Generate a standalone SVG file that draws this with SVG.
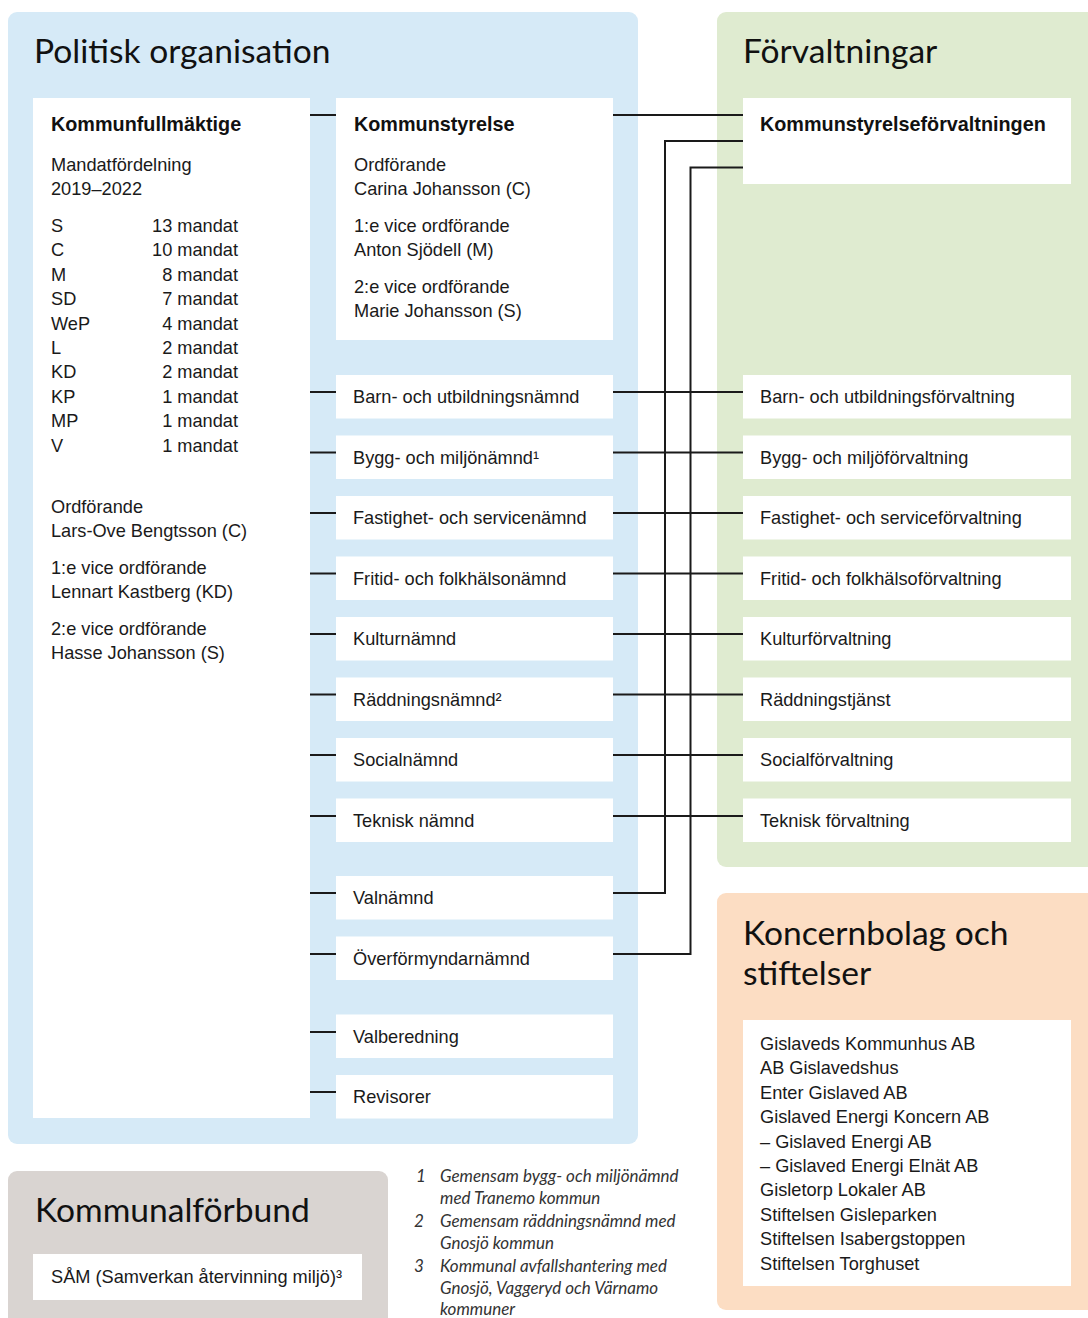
<svg xmlns="http://www.w3.org/2000/svg" width="1088" height="1318" viewBox="0 0 1088 1318">
<style>
.panel-blue{fill:#D6EAF7}
.panel-green{fill:#DFEBD0}
.panel-orange{fill:#FCDDC3}
.panel-gray{fill:#D9D4D1}
.box{fill:#FFFFFF}
.title{font-family:Lato,"Open Sans",sans-serif;font-size:33.6px;fill:#111}
.t{font-family:"Liberation Sans",Arial,sans-serif;font-size:18.2px;fill:#1a1a1a}
.b{font-family:"Liberation Sans",Arial,sans-serif;font-size:19.8px;font-weight:bold;fill:#111}
.fn{font-family:Lato,"Open Sans",sans-serif;font-size:17px;font-style:italic;fill:#333}
.conn{stroke:#1a1a1a;stroke-width:2;fill:none}
</style>
<rect width="1088" height="1318" fill="#FFFFFF"/>

<g id="panel-politisk">
<rect class="panel-blue" x="8" y="12" width="630" height="1132" rx="9"/>
<text class="title" x="34" y="63">Politisk organisation</text>
</g>
<g id="panel-forvaltningar">
<rect class="panel-green" x="717" y="12" width="390" height="855" rx="9"/>
<text class="title" x="743" y="63">Förvaltningar</text>
</g>
<g id="panel-koncern">
<rect class="panel-orange" x="717" y="893" width="390" height="417" rx="9"/>
<text class="title" x="743" y="945">Koncernbolag och</text>
<text class="title" x="743" y="985">stiftelser</text>
</g>
<g id="panel-kommunalforbund">
<rect class="panel-gray" x="8" y="1171" width="380" height="170" rx="9"/>
<text class="title" x="35" y="1222">Kommunalförbund</text>
</g>

<g id="connectors">
<line class="conn" x1="310" y1="115" x2="336" y2="115"/>
<line class="conn" x1="613" y1="115" x2="743" y2="115"/>
<polyline class="conn" points="743,141 665,141 665,893 613,893"/>
<polyline class="conn" points="743,167.5 690.5,167.5 690.5,954 613,954"/>
<line class="conn" x1="310" y1="392" x2="336" y2="392"/>
<line class="conn" x1="310" y1="452.5" x2="336" y2="452.5"/>
<line class="conn" x1="310" y1="513" x2="336" y2="513"/>
<line class="conn" x1="310" y1="573.5" x2="336" y2="573.5"/>
<line class="conn" x1="310" y1="634" x2="336" y2="634"/>
<line class="conn" x1="310" y1="694.5" x2="336" y2="694.5"/>
<line class="conn" x1="310" y1="755" x2="336" y2="755"/>
<line class="conn" x1="310" y1="816" x2="336" y2="816"/>
<line class="conn" x1="310" y1="893" x2="336" y2="893"/>
<line class="conn" x1="310" y1="954" x2="336" y2="954"/>
<line class="conn" x1="310" y1="1032" x2="336" y2="1032"/>
<line class="conn" x1="310" y1="1092" x2="336" y2="1092"/>
<line class="conn" x1="613" y1="392" x2="743" y2="392"/>
<line class="conn" x1="613" y1="452.5" x2="743" y2="452.5"/>
<line class="conn" x1="613" y1="513" x2="743" y2="513"/>
<line class="conn" x1="613" y1="573.5" x2="743" y2="573.5"/>
<line class="conn" x1="613" y1="634" x2="743" y2="634"/>
<line class="conn" x1="613" y1="694.5" x2="743" y2="694.5"/>
<line class="conn" x1="613" y1="755" x2="743" y2="755"/>
<line class="conn" x1="613" y1="816" x2="743" y2="816"/>
</g>

<g id="kommunfullmaktige">
<rect class="box" x="33" y="98" width="277" height="1020"/>
<text class="b" x="51" y="131">Kommunfullmäktige</text>
<text class="t" x="51" y="171">Mandatfördelning</text>
<text class="t" x="51" y="195">2019–2022</text>
<g class="t">
<text x="51" y="232">S</text>
<text x="51" y="256.4">C</text>
<text x="51" y="280.8">M</text>
<text x="51" y="305.2">SD</text>
<text x="51" y="329.6">WeP</text>
<text x="51" y="354">L</text>
<text x="51" y="378.4">KD</text>
<text x="51" y="402.8">KP</text>
<text x="51" y="427.2">MP</text>
<text x="51" y="451.6">V</text>
</g>
<g class="t" text-anchor="end">
<text x="238" y="232">13 mandat</text>
<text x="238" y="256.4">10 mandat</text>
<text x="238" y="280.8">8 mandat</text>
<text x="238" y="305.2">7 mandat</text>
<text x="238" y="329.6">4 mandat</text>
<text x="238" y="354">2 mandat</text>
<text x="238" y="378.4">2 mandat</text>
<text x="238" y="402.8">1 mandat</text>
<text x="238" y="427.2">1 mandat</text>
<text x="238" y="451.6">1 mandat</text>
</g>
<text class="t" x="51" y="513">Ordförande</text>
<text class="t" x="51" y="537">Lars-Ove Bengtsson (C)</text>
<text class="t" x="51" y="574">1:e vice ordförande</text>
<text class="t" x="51" y="598">Lennart Kastberg (KD)</text>
<text class="t" x="51" y="635">2:e vice ordförande</text>
<text class="t" x="51" y="659">Hasse Johansson (S)</text>
</g>

<g id="kommunstyrelse">
<rect class="box" x="336" y="98" width="277" height="242"/>
<text class="b" x="354" y="131">Kommunstyrelse</text>
<text class="t" x="354" y="171">Ordförande</text>
<text class="t" x="354" y="195">Carina Johansson (C)</text>
<text class="t" x="354" y="232">1:e vice ordförande</text>
<text class="t" x="354" y="256">Anton Sjödell (M)</text>
<text class="t" x="354" y="293">2:e vice ordförande</text>
<text class="t" x="354" y="317">Marie Johansson (S)</text>
</g>

<g id="n-barn"><rect class="box" x="336" y="375" width="277" height="43.5"/><text class="t" x="353" y="403">Barn- och utbildningsnämnd</text></g>
<g id="n-bygg"><rect class="box" x="336" y="435.5" width="277" height="43.5"/><text class="t" x="353" y="463.5">Bygg- och miljönämnd¹</text></g>
<g id="n-fastighet"><rect class="box" x="336" y="496" width="277" height="43.5"/><text class="t" x="353" y="524">Fastighet- och servicenämnd</text></g>
<g id="n-fritid"><rect class="box" x="336" y="556.5" width="277" height="43.5"/><text class="t" x="353" y="584.5">Fritid- och folkhälsonämnd</text></g>
<g id="n-kultur"><rect class="box" x="336" y="617" width="277" height="43.5"/><text class="t" x="353" y="645">Kulturnämnd</text></g>
<g id="n-raddning"><rect class="box" x="336" y="677.5" width="277" height="43.5"/><text class="t" x="353" y="705.5">Räddningsnämnd²</text></g>
<g id="n-social"><rect class="box" x="336" y="738" width="277" height="43.5"/><text class="t" x="353" y="766">Socialnämnd</text></g>
<g id="n-teknisk"><rect class="box" x="336" y="798.5" width="277" height="43.5"/><text class="t" x="353" y="826.5">Teknisk nämnd</text></g>
<g id="n-valnamnd"><rect class="box" x="336" y="876" width="277" height="43.5"/><text class="t" x="353" y="904">Valnämnd</text></g>
<g id="n-overformyndar"><rect class="box" x="336" y="936.5" width="277" height="43.5"/><text class="t" x="353" y="964.5">Överförmyndarnämnd</text></g>
<g id="n-valberedning"><rect class="box" x="336" y="1014.5" width="277" height="43.5"/><text class="t" x="353" y="1042.5">Valberedning</text></g>
<g id="n-revisorer"><rect class="box" x="336" y="1075" width="277" height="43.5"/><text class="t" x="353" y="1103">Revisorer</text></g>

<g id="f-ksf"><rect class="box" x="743" y="98" width="328" height="86"/><text class="b" x="760" y="131">Kommunstyrelseförvaltningen</text></g>
<g id="f-barn"><rect class="box" x="743" y="375" width="328" height="43.5"/><text class="t" x="760" y="403">Barn- och utbildningsförvaltning</text></g>
<g id="f-bygg"><rect class="box" x="743" y="435.5" width="328" height="43.5"/><text class="t" x="760" y="463.5">Bygg- och miljöförvaltning</text></g>
<g id="f-fastighet"><rect class="box" x="743" y="496" width="328" height="43.5"/><text class="t" x="760" y="524">Fastighet- och serviceförvaltning</text></g>
<g id="f-fritid"><rect class="box" x="743" y="556.5" width="328" height="43.5"/><text class="t" x="760" y="584.5">Fritid- och folkhälsoförvaltning</text></g>
<g id="f-kultur"><rect class="box" x="743" y="617" width="328" height="43.5"/><text class="t" x="760" y="645">Kulturförvaltning</text></g>
<g id="f-raddning"><rect class="box" x="743" y="677.5" width="328" height="43.5"/><text class="t" x="760" y="705.5">Räddningstjänst</text></g>
<g id="f-social"><rect class="box" x="743" y="738" width="328" height="43.5"/><text class="t" x="760" y="766">Socialförvaltning</text></g>
<g id="f-teknisk"><rect class="box" x="743" y="798.5" width="328" height="43.5"/><text class="t" x="760" y="826.5">Teknisk förvaltning</text></g>

<g id="koncern-list">
<rect class="box" x="743" y="1020" width="328" height="266"/>
<g class="t">
<text x="760" y="1050">Gislaveds Kommunhus AB</text>
<text x="760" y="1074.4">AB Gislavedshus</text>
<text x="760" y="1098.8">Enter Gislaved AB</text>
<text x="760" y="1123.2">Gislaved Energi Koncern AB</text>
<text x="760" y="1147.6">– Gislaved Energi AB</text>
<text x="760" y="1172">– Gislaved Energi Elnät AB</text>
<text x="760" y="1196.4">Gisletorp Lokaler AB</text>
<text x="760" y="1220.8">Stiftelsen Gisleparken</text>
<text x="760" y="1245.2">Stiftelsen Isabergstoppen</text>
<text x="760" y="1269.6">Stiftelsen Torghuset</text>
</g>
</g>

<g id="sam">
<rect class="box" x="33" y="1254" width="329" height="46"/>
<text class="t" x="51" y="1283">SÅM (Samverkan återvinning miljö)³</text>
</g>

<g id="footnotes" class="fn">
<text x="416" y="1182">1</text>
<text x="440" y="1182">Gemensam bygg- och miljönämnd</text>
<text x="440" y="1204">med Tranemo kommun</text>
<text x="414" y="1227">2</text>
<text x="440" y="1227">Gemensam räddningsnämnd med</text>
<text x="440" y="1249">Gnosjö kommun</text>
<text x="414" y="1271.5">3</text>
<text x="440" y="1271.5">Kommunal avfallshantering med</text>
<text x="440" y="1293.5">Gnosjö, Vaggeryd och Värnamo</text>
<text x="440" y="1315">kommuner</text>
</g>
</svg>
